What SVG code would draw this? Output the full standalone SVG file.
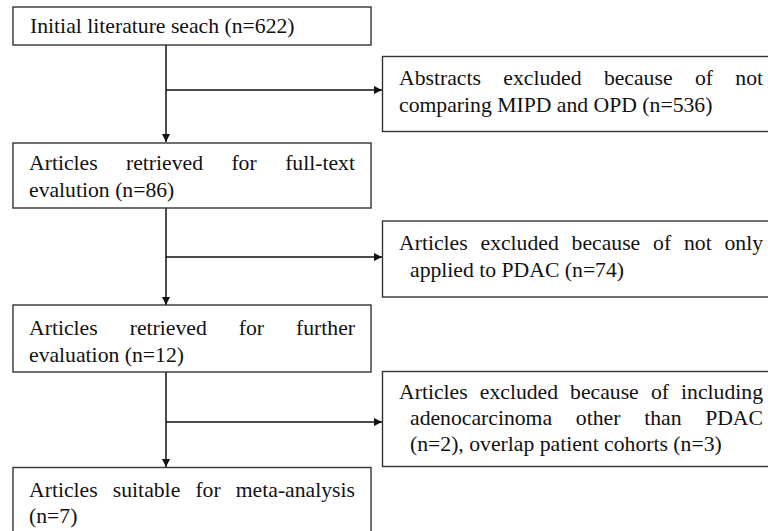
<svg xmlns="http://www.w3.org/2000/svg" width="768" height="531" viewBox="0 0 768 531">
<style>
.box{fill:#fff;stroke:#333;stroke-width:1.4}
.t{font-family:"Liberation Serif","Times New Roman",serif;font-size:21.7px;fill:#111}
.e{text-anchor:end}
.ln{stroke:#111;stroke-width:1.5;fill:none}
</style>
<defs>
<marker id="ah" viewBox="0 0 10 10" refX="10" refY="5" markerWidth="8" markerHeight="8" markerUnits="userSpaceOnUse" orient="auto">
<path d="M0,0 L10,5 L0,10 z" fill="#111"/>
</marker>
</defs>
<rect width="768" height="531" fill="#fff"/>
<g id="connectors">
<line class="ln" x1="166" y1="45" x2="166" y2="142" marker-end="url(#ah)"/>
<line class="ln" x1="166" y1="90" x2="382" y2="90" marker-end="url(#ah)"/>
<line class="ln" x1="166" y1="208" x2="166" y2="305" marker-end="url(#ah)"/>
<line class="ln" x1="166" y1="257" x2="382" y2="257" marker-end="url(#ah)"/>
<line class="ln" x1="166" y1="372" x2="166" y2="467" marker-end="url(#ah)"/>
<line class="ln" x1="166" y1="422" x2="382" y2="422" marker-end="url(#ah)"/>
</g>
<g id="n1">
<rect class="box" x="13" y="7" width="358" height="38"/>
<text class="t" x="30" y="33">Initial literature seach (n=622)</text>
</g>
<g id="n2">
<rect class="box" x="13" y="143" width="358" height="65"/>
<text class="t" y="170"><tspan x="29">Articles</tspan><tspan x="126">retrieved</tspan><tspan x="231.4">for</tspan></text>
<text class="t e" x="355" y="170">full-text</text>
<text class="t" x="29" y="197">evalution (n=86)</text>
</g>
<g id="n3">
<rect class="box" x="13" y="305" width="358" height="67"/>
<text class="t" y="335"><tspan x="29">Articles</tspan><tspan x="129.7">retrieved</tspan><tspan x="238.8">for</tspan></text>
<text class="t e" x="355" y="335">further</text>
<text class="t" x="29" y="362">evaluation (n=12)</text>
</g>
<g id="n4">
<rect class="box" x="13" y="467.5" width="358" height="80"/>
<text class="t" y="497"><tspan x="29">Articles</tspan><tspan x="112.8">suitable</tspan><tspan x="195.4">for</tspan></text>
<text class="t e" x="355" y="497">meta-analysis</text>
<text class="t" x="29" y="523">(n=7)</text>
</g>
<g id="e1">
<rect class="box" x="382.5" y="56.5" width="400" height="75"/>
<text class="t" y="85"><tspan x="399">Abstracts</tspan><tspan x="503.3">excluded</tspan><tspan x="603.9">because</tspan><tspan x="694.9">of</tspan></text>
<text class="t e" x="763" y="85">not</text>
<text class="t" x="399" y="111.5">comparing MIPD and OPD (n=536)</text>
</g>
<g id="e2">
<rect class="box" x="382.5" y="221" width="400" height="76"/>
<text class="t" y="250"><tspan x="399">Articles</tspan><tspan x="480.5">excluded</tspan><tspan x="571.6">because</tspan><tspan x="653.1">of</tspan><tspan x="684">not</tspan></text>
<text class="t e" x="763" y="250">only</text>
<text class="t" x="410" y="276.5">applied to PDAC (n=74)</text>
</g>
<g id="e3">
<rect class="box" x="382.5" y="371.5" width="400" height="95"/>
<text class="t" y="399"><tspan x="399">Articles</tspan><tspan x="479.8">excluded</tspan><tspan x="570.1">because</tspan><tspan x="650.9">of</tspan></text>
<text class="t e" x="763" y="399">including</text>
<text class="t" y="425"><tspan x="410">adenocarcinoma</tspan><tspan x="575.8">other</tspan><tspan x="644.2">than</tspan></text>
<text class="t e" x="763" y="425">PDAC</text>
<text class="t" x="410" y="450.5">(n=2), overlap patient cohorts (n=3)</text>
</g>
</svg>
